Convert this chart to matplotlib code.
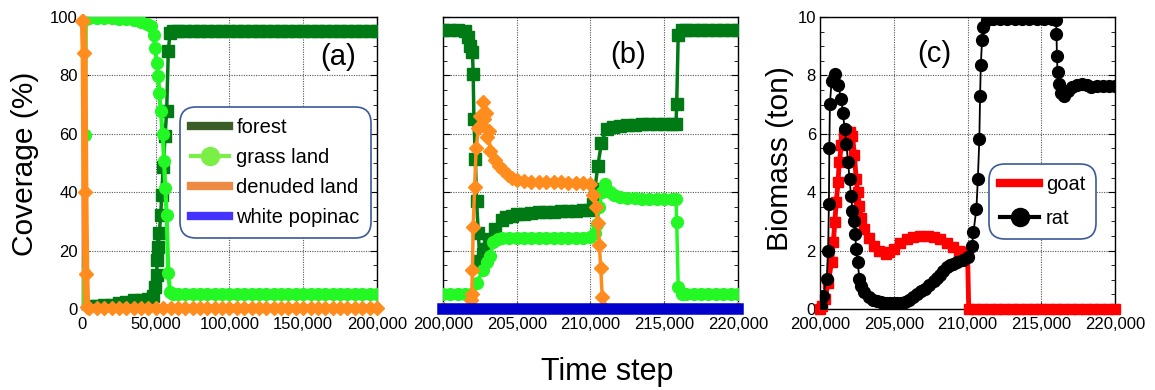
import matplotlib.pyplot as plt
from matplotlib.lines import Line2D
from matplotlib.ticker import FuncFormatter, MultipleLocator

plt.rcParams['font.family'] = ['Liberation Sans', 'DejaVu Sans']

# --- panel (a): land coverage, first 200,000 steps (time in thousands) ---
forest_a_t = [0, 3, 6, 10, 15, 20, 25, 30, 35, 40, 45, 48, 49.5,
              50.6, 51.0, 51.7, 52.4, 53.4, 54.0, 55.1, 56.3, 57.4, 58.5, 59.7, 62,
              65, 70, 75, 80, 85, 90, 95, 100, 105, 110, 115, 120, 125, 130,
              135, 140, 145, 150, 155, 160, 165, 170, 175, 180, 185, 190, 195, 200]
forest_a_v = [0.5, 0.8, 1.0, 1.0, 1.2, 1.5, 2.0, 2.5, 3.0, 3.2, 3.5, 4.5, 7.5,
              11.7, 16.8, 21.4, 26.0, 32.2, 39.1, 48.8, 59.1, 67.7, 88.3, 94.6, 95.1,
              95.1, 95.2, 95.2, 95.2, 95.3, 95.3, 95.3, 95.3, 95.3, 95.3, 95.3, 95.3, 95.3, 95.3,
              95.3, 95.3, 95.3, 95.3, 95.3, 95.3, 95.3, 95.3, 95.3, 95.3, 95.3, 95.3, 95.3, 95.3]

grass_a_t = [0, 0.9, 1.6, 2.0, 2.6, 5, 10, 15, 20, 25, 30, 35, 40, 44, 47,
             48.5, 49.5, 50.6, 51.7, 52.4, 53.4, 54.7, 55.6, 56.5, 57.4, 58.5, 59.7, 62,
             65, 70, 75, 80, 85, 90, 95, 100, 105, 110, 115, 120, 125, 130,
             135, 140, 145, 150, 155, 160, 165, 170, 175, 180, 185, 190, 195, 200]
grass_a_v = [1.5, 2.5, 12.2, 59.7, 99.3, 99.6, 99.6, 99.5, 99.5, 99.4, 99.2, 98.9, 98.2, 97.6, 97.0,
             94.0, 89.4, 84.3, 79.7, 74.0, 67.7, 59.9, 50.8, 41.4, 32.2, 12.2, 5.9, 5.3,
             5.2, 5.2, 5.2, 5.2, 5.2, 5.2, 5.2, 5.2, 5.2, 5.2, 5.2, 5.2, 5.2, 5.2,
             5.2, 5.2, 5.2, 5.2, 5.2, 5.2, 5.2, 5.2, 5.2, 5.2, 5.2, 5.2, 5.2, 5.2]

denuded_a_t = [0, 0.9, 1.4, 2.0, 2.6, 3.2,
               5, 10, 15, 20, 25, 30, 35, 40, 45, 50, 55, 60, 65, 70, 75, 80, 85, 90, 95, 100,
               105, 110, 115, 120, 125, 130, 135, 140, 145, 150, 155, 160, 165, 170, 175, 180,
               185, 190, 195, 200]
denuded_a_v = [98.6, 98.6, 87.7, 40.2, 12.0, 0.8,
               0.5, 0.5, 0.5, 0.5, 0.5, 0.5, 0.5, 0.5, 0.5, 0.5, 0.5, 0.5, 0.5, 0.5, 0.5, 0.5, 0.5, 0.5, 0.5, 0.5,
               0.5, 0.5, 0.5, 0.5, 0.5, 0.5, 0.5, 0.5, 0.5, 0.5, 0.5, 0.5, 0.5, 0.5, 0.5, 0.5,
               0.5, 0.5, 0.5, 0.5]

# --- panel (b): land coverage, steps 200,000-220,000 ---
forest_b_t = [200, 200.5, 201, 201.5, 201.7, 201.85, 202.0, 202.05, 202.1, 202.2, 202.28, 202.4, 202.5,
              202.7, 202.9, 203.15, 203.5, 204.0, 204.3, 204.7,
              205.0, 205.5, 206.0, 206.5, 207.0, 207.5, 208.0, 208.5, 209.0, 209.5, 210.0,
              210.15, 210.3, 210.5, 210.75, 211.1, 211.5, 212.0,
              212.5, 213.0, 213.5, 214.0, 214.5, 215.0, 215.5, 215.8,
              215.85, 215.95, 216.2, 216.5, 217.0, 217.5, 218.0, 218.5, 219.0, 219.5, 220.0]
forest_b_v = [95.4, 95.4, 95.4, 95.2, 93.0, 90.2, 88.0, 80.5, 65.0, 51.2, 37.0, 26.0, 16.6,
              19.0, 20.5, 24.0, 27.5, 30.5, 31.4, 32.0,
              32.4, 32.7, 33.0, 33.1, 33.2, 33.3, 33.4, 33.5, 33.6, 33.8, 34.0,
              36.0, 41.0, 49.0, 57.0, 61.7, 62.5, 62.8,
              63.0, 63.1, 63.2, 63.2, 63.3, 63.3, 63.4, 63.4,
              70.3, 93.7, 95.4, 95.4, 95.4, 95.4, 95.4, 95.4, 95.4, 95.4, 95.4]

grass_b_t = [200, 200.5, 201, 201.5, 201.9, 202.3, 202.7, 203.0, 203.2, 203.4, 203.7, 204.0,
             204.5, 205, 205.5, 206, 206.5, 207, 207.5, 208, 208.5, 209, 209.5, 210.0,
             210.3, 210.45, 210.6, 210.8, 211.0, 211.3, 211.6, 212.0,
             212.5, 213, 213.5, 214, 214.5, 215, 215.5, 215.8,
             215.85, 215.95, 216.2, 216.5, 217, 217.5, 218, 218.5, 219, 219.5, 220]
grass_b_v = [5.0, 5.0, 5.0, 5.0, 5.3, 9.0, 13.2, 16.0, 18.3, 22.9, 24.0, 24.2,
             24.2, 24.2, 24.2, 24.2, 24.2, 24.2, 24.2, 24.2, 24.2, 24.3, 24.4, 24.5,
             26.0, 29.0, 35.0, 40.0, 42.9, 40.0, 38.9, 38.3,
             38.0, 37.9, 37.8, 37.7, 37.7, 37.6, 37.6, 37.5,
             29.7, 7.5, 5.2, 5.2, 5.2, 5.2, 5.2, 5.2, 5.2, 5.2, 5.2]

denuded_b_t = [200, 201.8, 201.9, 201.95, 202.0, 202.05, 202.15, 202.25,
               202.4, 202.5, 202.6, 202.7, 202.8, 202.9, 203.0, 203.1, 203.2,
               203.5, 203.8, 204.1, 204.4, 204.7, 205.0,
               205.5, 206, 206.5, 207, 207.5, 208, 208.5, 209, 209.5, 210.0,
               210.2, 210.35, 210.5, 210.6, 210.7, 210.8, 210.85, 211.0, 220]
denuded_b_v = [0, 0, 3.0, 5.2, 13.2, 28.0, 41.7, 55.0,
               62.0, 66.0, 63.0, 71.0, 65.0, 67.0, 59.0, 61.0, 54.0,
               51.0, 49.0, 47.5, 46.0, 45.0, 44.2,
               43.8, 43.6, 43.5, 43.5, 43.5, 43.4, 43.3, 43.2, 43.0, 42.8,
               39.0, 35.0, 29.5, 22.0, 14.0, 4.0, 0.5, 0, 0]

popinac_b_t = [200, 220]
popinac_b_v = [0, 0]

# --- panel (c): biomass (ton) ---
rat_t = [200.0, 200.07, 200.2, 200.45, 200.55, 200.6, 200.63, 200.67, 200.78, 201.0,
         201.2, 201.45, 201.55, 201.67, 201.78, 201.9, 202.0, 202.1, 202.2, 202.3,
         202.38, 202.45, 202.55, 202.67, 202.8, 203.0, 203.3, 203.6, 203.85, 204.1,
         204.3, 204.5, 204.75, 205.0, 205.25, 205.5, 205.75, 206.0, 206.3, 206.6,
         206.85, 207.1, 207.4, 207.7, 207.9, 208.1, 208.35, 208.6, 208.8, 209.0,
         209.3, 209.7, 210.05, 210.3, 210.4, 210.6, 210.7, 210.8, 210.85, 210.9,
         210.98, 211.05, 211.3, 211.7, 212.2, 212.7, 213.2, 213.7, 214.2, 214.7,
         215.2, 215.7, 216.0, 216.03, 216.06, 216.1, 216.2, 216.35, 216.55, 216.8,
         217.1, 217.4, 217.75, 218.1, 218.4, 218.8, 219.2, 219.6, 220.0]
rat_v = [0.05, 0.11, 0.46, 1.03, 2.0, 3.6, 5.5, 7.03, 7.8, 8.05,
         7.66, 7.2, 6.7, 6.17, 5.66, 5.03, 4.46, 3.88, 3.37, 3.03,
         2.57, 2.06, 1.6, 1.03, 0.8, 0.57, 0.42, 0.3, 0.26, 0.23,
         0.21, 0.2, 0.2, 0.2, 0.21, 0.22, 0.25, 0.3, 0.4, 0.5,
         0.6, 0.7, 0.83, 0.97, 1.06, 1.15, 1.3, 1.43, 1.5, 1.55,
         1.6, 1.68, 1.77, 2.17, 2.63, 3.43, 4.46, 5.83, 7.3, 8.34,
         9.2, 9.65, 9.9, 9.93, 9.94, 9.94, 9.94, 9.94, 9.94, 9.94,
         9.94, 9.94, 9.9, 9.43, 8.68, 8.11, 7.71, 7.4, 7.31, 7.45,
         7.6, 7.68, 7.71, 7.68, 7.6, 7.62, 7.65, 7.65, 7.65]

goat_t = [200.0, 200.15, 200.33, 200.55, 200.78, 200.9, 201.0, 201.1, 201.22, 201.3,
          201.45, 201.6, 201.78, 202.0, 202.2, 202.33, 202.45, 202.55, 202.67, 202.8,
          203.0, 203.3, 203.67, 204.0, 204.45, 204.7, 205.0, 205.4, 205.9, 206.3,
          206.8, 207.3, 207.7, 208.1, 208.6, 209.0, 209.45, 209.8, 210.0, 210.08,
          210.5, 211, 211.5, 212, 212.5, 213, 213.5, 214, 214.5, 215,
          215.5, 216, 216.5, 217, 217.5, 218, 218.5, 219, 219.5, 220]
goat_v = [0.0, 0.1, 0.34, 0.9, 1.6, 2.28, 2.97, 3.66, 4.34, 5.03,
          5.6, 5.95, 6.1, 6.05, 5.94, 5.26, 4.46, 4.0, 3.54, 3.1,
          2.74, 2.42, 2.17, 2.0, 1.89, 1.95, 2.06, 2.25, 2.4, 2.48,
          2.51, 2.5, 2.45, 2.4, 2.25, 2.12, 2.0, 1.95, 1.94, 0.0,
          0, 0, 0, 0, 0, 0, 0, 0, 0, 0,
          0, 0, 0, 0, 0, 0, 0, 0, 0, 0]

FOREST = '#007a14'
GRASS = '#24f824'
DENUDED = '#ff8c1c'
POPINAC = '#0000cc'
GOAT = '#ff0000'
RAT = '#000000'


def steps(t):
    # time lists are kept in thousands of steps
    return [v * 1000 for v in t]


def style(ax):
    ax.grid(True, color='#555555', linestyle=(0, (1, 1.2)), linewidth=0.8)
    ax.tick_params(which='both', direction='in', left=True, right=True,
                   top=False, bottom=True, labelsize=12, pad=6)
    ax.tick_params(which='major', length=5)
    ax.tick_params(which='minor', length=3)
    ax.tick_params(axis='y', pad=3)
    ax.xaxis.set_major_formatter(FuncFormatter(lambda v, p: f"{int(round(v)):,}"))
    for s in ax.spines.values():
        s.set_linewidth(1.0)


def legend_box(leg):
    fr = leg.get_frame()
    fr.set_boxstyle('round,pad=0,rounding_size=0.8')
    fr.set_edgecolor('#3a5998')
    fr.set_linewidth(1.2)
    leg.set_zorder(10)


fig = plt.figure(figsize=(11.55, 3.9), dpi=100)
ax_a = fig.add_axes([0.0710, 0.2077, 0.2554, 0.7487])
ax_b = fig.add_axes([0.3835, 0.2077, 0.2554, 0.7487])
ax_c = fig.add_axes([0.7100, 0.2077, 0.2554, 0.7487])

# (a)
ax_a.plot(steps(forest_a_t), forest_a_v, color=FOREST, lw=2.5, marker='s', ms=8, zorder=3)
ax_a.plot(steps(grass_a_t), grass_a_v, color=GRASS, lw=3, marker='o', ms=8.5, zorder=4)
ax_a.plot(steps(denuded_a_t), denuded_a_v, color=DENUDED, lw=5, marker='D', ms=7, zorder=5, clip_on=False)
ax_a.set_xlim(0, 200000)
ax_a.set_ylim(0, 100)
ax_a.set_xticks([0, 50000, 100000, 150000, 200000])
ax_a.set_yticks([0, 20, 40, 60, 80, 100])
ax_a.yaxis.set_minor_locator(MultipleLocator(5))
style(ax_a)
ax_a.text(0.868, 0.863, '(a)', transform=ax_a.transAxes, fontsize=21, ha='center', va='center')

handles_a = [
    Line2D([], [], color='#3b5e28', lw=6),
    Line2D([], [], color='#7aef45', lw=3, marker='o', ms=13),
    Line2D([], [], color='#ef8a45', lw=6),
    Line2D([], [], color='#4433ff', lw=6),
]
leg_a = ax_a.legend(handles_a, ['forest', 'grass land', 'denuded land', 'white popinac'],
                    loc='upper left', bbox_to_anchor=(0.332, 0.692), borderaxespad=0,
                    fontsize=14.5, handlelength=1.9, handletextpad=0.35, labelspacing=0.55,
                    borderpad=0.55, fancybox=True, framealpha=1)
legend_box(leg_a)

# (b)
ax_b.plot(steps(forest_b_t), forest_b_v, color=FOREST, lw=2.5, marker='s', ms=8, zorder=3)
ax_b.plot(steps(grass_b_t), grass_b_v, color=GRASS, lw=2.5, marker='o', ms=8.5, zorder=4)
ax_b.plot(steps(denuded_b_t), denuded_b_v, color=DENUDED, lw=2.5, marker='D', ms=7, zorder=5)
ax_b.plot(steps(popinac_b_t), popinac_b_v, color=POPINAC, lw=8.3, solid_capstyle='projecting',
          zorder=6, clip_on=False)
ax_b.set_xlim(200000, 220000)
ax_b.set_ylim(0, 100)
ax_b.set_xticks([200000, 205000, 210000, 215000, 220000])
ax_b.set_yticks([0, 20, 40, 60, 80, 100])
ax_b.yaxis.set_minor_locator(MultipleLocator(5))
style(ax_b)
ax_b.set_yticklabels([])
ax_b.text(0.627, 0.87, '(b)', transform=ax_b.transAxes, fontsize=21, ha='center', va='center')

# (c)
ax_c.plot(steps(goat_t), goat_v, color=GOAT, lw=3.5, marker='s', ms=7.5, zorder=3, clip_on=False)
ax_c.plot(steps(rat_t), rat_v, color=RAT, lw=1.3, marker='o', ms=8.5, zorder=4)
ax_c.set_xlim(200000, 220000)
ax_c.set_ylim(0, 10)
ax_c.set_xticks([200000, 205000, 210000, 215000, 220000])
ax_c.set_yticks([0, 2, 4, 6, 8, 10])
ax_c.yaxis.set_minor_locator(MultipleLocator(0.5))
style(ax_c)
ax_c.text(0.388, 0.875, '(c)', transform=ax_c.transAxes, fontsize=21, ha='center', va='center')

handles_c = [
    Line2D([], [], color=GOAT, lw=6),
    Line2D([], [], color=RAT, lw=3, marker='o', ms=13),
]
leg_c = ax_c.legend(handles_c, ['goat', 'rat'], loc='upper left', bbox_to_anchor=(0.574, 0.498),
                    borderaxespad=0, fontsize=14.5, handlelength=1.9, handletextpad=0.35,
                    labelspacing=0.75, borderpad=0.55, fancybox=True, framealpha=1)
legend_box(leg_c)

fig.text(25 / 1155, 0.581, 'Coverage (%)', rotation=90, fontsize=21.5, ha='center', va='center')
fig.text(780 / 1155, 0.594, 'Biomass (ton)', rotation=90, fontsize=21.5, ha='center', va='center')
fig.text(0.526, 0.046, 'Time step', fontsize=22, ha='center', va='center')

fig.savefig('out.png', dpi=100)
